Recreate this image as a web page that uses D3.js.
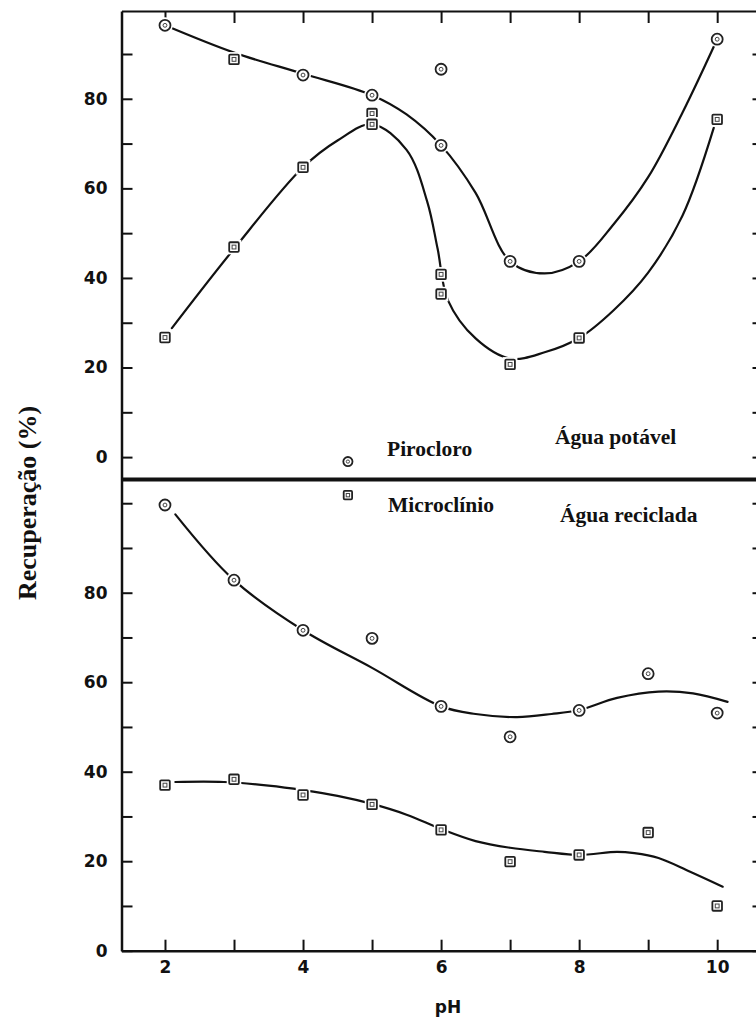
<!DOCTYPE html>
<html><head><meta charset="utf-8">
<script src="https://cdn.jsdelivr.net/npm/d3@7"></script>
<style>html,body{margin:0;padding:0;background:#fff;} svg{display:block;}</style>
</head><body>
<svg id="chart" width="756" height="1019"></svg>
<script>
// ---- axis ticks / labels ----
const pHTicks = [2, 3, 4, 5, 6, 7, 8, 9, 10];
const pHLabels = [2, 4, 6, 8, 10];
const yTicksTop = [0, 10, 20, 30, 40, 50, 60, 70, 80, 90];
const yTicksBottom = [0, 10, 20, 30, 40, 50, 60, 70, 80, 90, 100];
const yLabels = [0, 20, 40, 60, 80];
const xTitle = "pH";
const yTitle = "Recuperação (%)";

// ---- Água potável (top panel) ----
const potCircPH   = [2, 3, 4, 5, 6, 6, 7, 8, 10];
const potCircVal  = [96.4, 88.8, 85.3, 80.8, 86.6, 69.6, 43.7, 43.7, 93.3];
const potCircShape = ["c", "s", "c", "c", "c", "c", "c", "c", "c"];
const potSqPH     = [2, 3, 4, 5, 5, 6, 6, 7, 8, 10];
const potSqVal    = [26.7, 46.9, 64.7, 76.7, 74.3, 40.8, 36.4, 20.7, 26.6, 75.4];
const potCircFitPH = [2, 3, 4, 5, 5.5, 6, 6.5, 7, 7.5, 8, 8.5, 9, 9.5, 10];
const potCircFit   = [96.4, 90.3, 85.6, 80.8, 76.5, 69.6, 59, 43.7, 41, 43.7, 52, 62.5, 77, 93.3];
const potSqFitPH = [2.1, 3, 4, 4.5, 5, 5.5, 5.8, 5.95, 6.1, 6.5, 7, 7.5, 8, 8.5, 9, 9.5, 9.95];
const potSqFit   = [28.8, 46.5, 64.7, 70.7, 74.3, 68.6, 57, 46.5, 35, 26.5, 22, 23.4, 26.6, 32.8, 41.2, 54, 73.5];

// ---- Água reciclada (bottom panel) ----
const recCircPH  = [2, 3, 4, 5, 6, 7, 8, 9, 10];
const recCircVal = [99.6, 82.8, 71.6, 69.8, 54.6, 47.8, 53.7, 61.9, 53.1];
const recSqPH    = [2, 3, 4, 5, 6, 7, 8, 9, 10];
const recSqVal   = [37.0, 38.3, 34.8, 32.7, 27.0, 19.9, 21.4, 26.4, 10.0];
const recCircFitPH = [2.15, 3, 4, 5, 6, 6.5, 7.1, 7.6, 8, 8.55, 9.15, 9.65, 10.15];
const recCircFit   = [97.5, 82.8, 71.6, 63.2, 54.6, 52.9, 52.2, 52.9, 53.8, 56.5, 57.9, 57.5, 55.6];
const recSqFitPH = [2.15, 2.85, 3.5, 4, 4.5, 5, 5.5, 6, 6.5, 7, 7.5, 8, 8.55, 8.8, 9.15, 9.6, 10.08];
const recSqFit   = [37.7, 37.7, 36.9, 35.9, 34.6, 32.8, 30.4, 27.2, 24.5, 23.0, 22.1, 21.4, 22.1, 21.8, 20.7, 17.7, 14.3];

// ---- legend / labels ----
const legendNames = ["Pirocloro", "Microclínio"];
const legendPH = [4.65, 4.65];
const legendVal = [-1.0, 101.8];
const panelNames = ["Água potável", "Água reciclada"];

const svg = d3.select("#chart");
const x = d3.scaleLinear().domain([1.37, 10.7]).range([121.5, 765.5]);
const yTop = d3.scaleLinear().domain([-5, 99.6]).range([479.5, 11]);
const yBot = d3.scaleLinear().domain([0, 105.3]).range([950.7, 479.5]);

const tickFont = "DejaVu Sans";
const serif = "Liberation Serif";

function styleAxis(g, w) {
  g.selectAll("path.domain").attr("stroke", "#111").attr("stroke-width", w);
  g.selectAll(".tick line").attr("stroke", "#111").attr("stroke-width", 2);
  g.selectAll(".tick text").attr("fill", "#111").style("font-family", tickFont)
    .style("font-size", "17px").style("font-weight", "bold");
}

// bottom x axis
const gxb = svg.append("g").attr("transform", `translate(0,${yBot(0)})`)
  .call(d3.axisBottom(x).tickValues(pHTicks).tickSizeInner(-11).tickSizeOuter(0).tickPadding(10)
    .tickFormat(d => pHLabels.includes(d) ? d : ""));
styleAxis(gxb, 2.5);
// top x axis
const gxt = svg.append("g").attr("transform", `translate(0,${yTop.range()[1]})`)
  .call(d3.axisTop(x).tickValues(pHTicks).tickSizeInner(-12).tickSizeOuter(0).tickFormat(""));
styleAxis(gxt, 2);
// left axes
const gyt = svg.append("g").attr("transform", `translate(${x.range()[0]},0)`)
  .call(d3.axisLeft(yTop).tickValues(yTicksTop).tickSizeInner(-11).tickSizeOuter(0).tickPadding(14)
    .tickFormat(d => yLabels.includes(d) ? d : ""));
styleAxis(gyt, 2.5);
const gyb = svg.append("g").attr("transform", `translate(${x.range()[0]},0)`)
  .call(d3.axisLeft(yBot).tickValues(yTicksBottom).tickSizeInner(-11).tickSizeOuter(0).tickPadding(14)
    .tickFormat(d => yLabels.includes(d) ? d : ""));
styleAxis(gyb, 2.5);
// right axes
const gyr1 = svg.append("g").attr("transform", `translate(${x.range()[1]},0)`)
  .call(d3.axisRight(yTop).tickValues(yTicksTop).tickSizeInner(-13).tickSizeOuter(0).tickFormat(""));
styleAxis(gyr1, 2);
const gyr2 = svg.append("g").attr("transform", `translate(${x.range()[1]},0)`)
  .call(d3.axisRight(yBot).tickValues(yTicksBottom).tickSizeInner(-13).tickSizeOuter(0).tickFormat(""));
styleAxis(gyr2, 2);

// separator
svg.append("line").attr("x1", x.range()[0]).attr("x2", x.range()[1])
  .attr("y1", yTop(-5)).attr("y2", yTop(-5)).attr("stroke", "#111").attr("stroke-width", 4);

// curves
const zip = (a, b) => a.map((v, i) => [v, b[i]]);
function curve(px, py, ys) {
  const line = d3.line().x(d => x(d[0])).y(d => ys(d[1])).curve(d3.curveCatmullRom.alpha(0.5));
  svg.append("path").attr("d", line(zip(px, py))).attr("fill", "none")
    .attr("stroke", "#111").attr("stroke-width", 2.2).attr("stroke-linecap", "round");
}
curve(potCircFitPH, potCircFit, yTop);
curve(potSqFitPH, potSqFit, yTop);
curve(recCircFitPH, recCircFit, yBot);
curve(recSqFitPH, recSqFit, yBot);

// markers
function marker(cx, cy, shape, s) {
  const g = svg.append("g").attr("transform", `translate(${cx},${cy})`);
  if (shape === "c") {
    g.append("circle").attr("r", s + 2.5).attr("fill", "#fff");
    g.append("circle").attr("r", s).attr("fill", "#fff").attr("stroke", "#222").attr("stroke-width", 1.8);
    g.append("circle").attr("r", s * 0.35).attr("fill", "none").attr("stroke", "#444").attr("stroke-width", 1);
  } else {
    g.append("rect").attr("x", -s - 2.5).attr("y", -s - 2.5).attr("width", 2 * s + 5).attr("height", 2 * s + 5).attr("fill", "#fff");
    g.append("rect").attr("x", -s).attr("y", -s).attr("width", 2 * s).attr("height", 2 * s)
      .attr("rx", 1).attr("fill", "#fff").attr("stroke", "#222").attr("stroke-width", 1.8);
    g.append("rect").attr("x", -s * 0.4).attr("y", -s * 0.4).attr("width", s * 0.8).attr("height", s * 0.8)
      .attr("fill", "none").attr("stroke", "#444").attr("stroke-width", 1);
  }
}
potCircPH.forEach((p, i) => marker(x(p), yTop(potCircVal[i]), potCircShape[i], potCircShape[i] === "c" ? 5.5 : 4.8));
potSqPH.forEach((p, i) => marker(x(p), yTop(potSqVal[i]), "s", 4.8));
recCircPH.forEach((p, i) => marker(x(p), yBot(recCircVal[i]), "c", 5.5));
recSqPH.forEach((p, i) => marker(x(p), yBot(recSqVal[i]), "s", 4.8));

// legend markers
marker(x(legendPH[0]), yTop(legendVal[0]), "c", 4.6);
marker(x(legendPH[1]), yBot(legendVal[1]), "s", 4.2);

// text labels
function label(t, tx, ty, size) {
  svg.append("text").attr("x", tx).attr("y", ty).text(t)
    .style("font-family", serif).style("font-weight", "bold").style("font-size", size + "px").attr("fill", "#111");
}
label(legendNames[0], 387, 456, 21.5);
label(legendNames[1], 388, 512, 21.5);
label(panelNames[0], 555, 444, 21.5);
label(panelNames[1], 560, 522, 21.5);

// axis titles
svg.append("text").attr("x", 448).attr("y", 1013).attr("text-anchor", "middle").text(xTitle)
  .style("font-family", tickFont).style("font-size", "17px").style("font-weight", "bold").attr("fill", "#111");
svg.append("text").attr("transform", `translate(36,503) rotate(-90)`).attr("text-anchor", "middle").text(yTitle)
  .style("font-family", serif).style("font-weight", "bold").style("font-size", "26px").attr("fill", "#111");
</script>
</body></html>
